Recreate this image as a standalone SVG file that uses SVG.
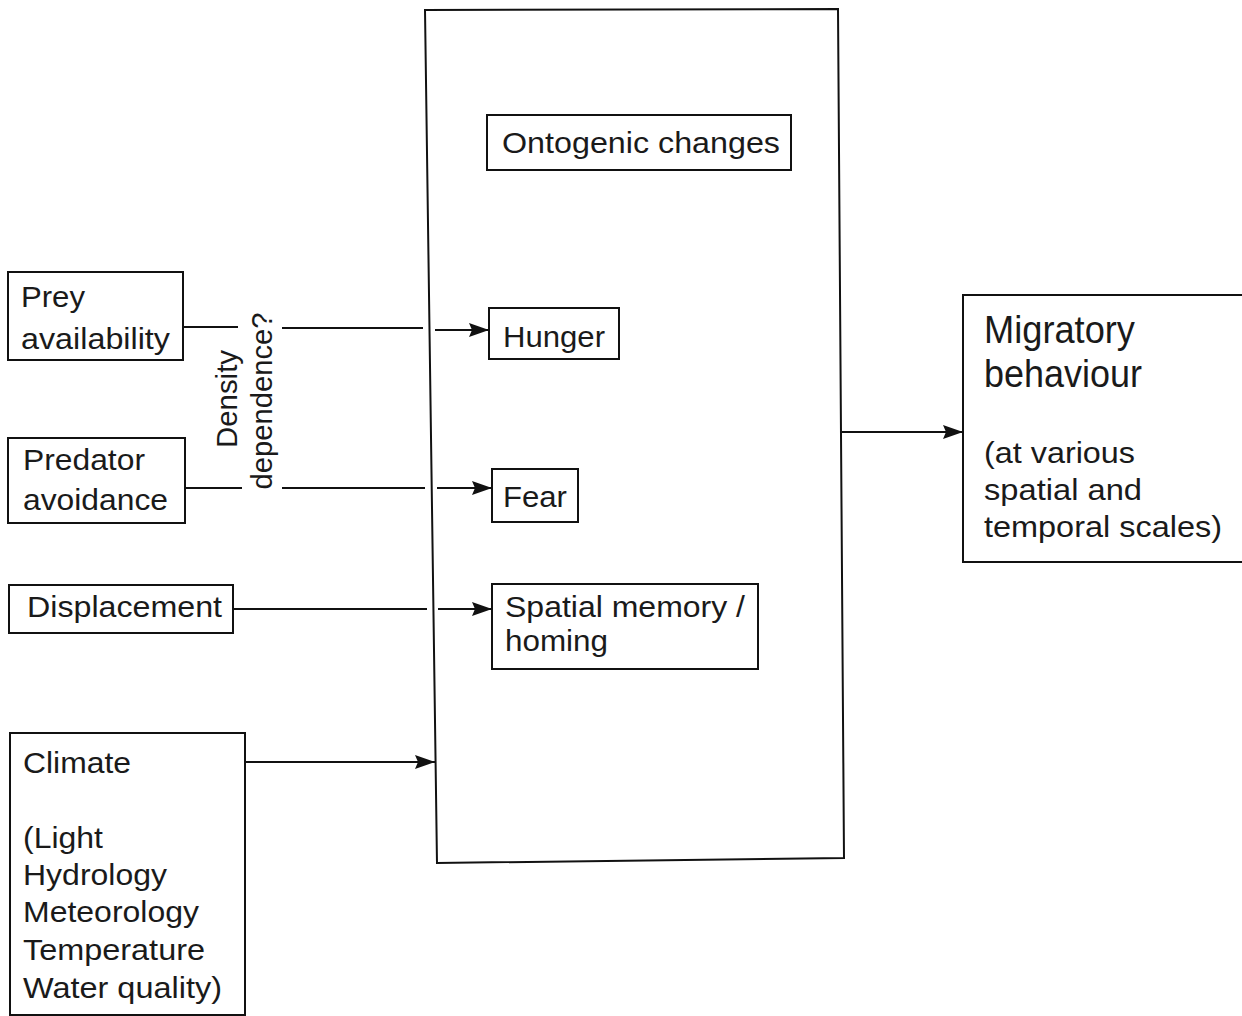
<svg xmlns="http://www.w3.org/2000/svg" width="1242" height="1016" viewBox="0 0 1242 1016">
<style>
.box{fill:none;stroke:#111;stroke-width:2}
.ln{fill:none;stroke:#111;stroke-width:2}
text{font-family:"Liberation Sans",Arial,sans-serif;font-size:29px;fill:#1a1a1a}
.big{font-size:38px}
</style>
<defs>
<marker id="ah" markerUnits="userSpaceOnUse" markerWidth="22" markerHeight="16" refX="20" refY="8" orient="auto">
<path d="M0,1 L20,8 L0,15 L3,8 Z" fill="#111"/>
</marker>
</defs>
<rect width="1242" height="1016" fill="#fff"/>

<g id="central">
<polygon class="box" points="425,10 838,9 844,858 437,863"/>
</g>
<g id="ontogenic">
<rect class="box" x="487" y="115" width="304" height="55"/>
<text x="502" y="153" textLength="278" lengthAdjust="spacingAndGlyphs">Ontogenic changes</text>
</g>
<g id="prey">
<rect class="box" x="8" y="272" width="175" height="88"/>
<text x="21" y="307" textLength="64" lengthAdjust="spacingAndGlyphs">Prey</text>
<text x="21" y="349" textLength="149" lengthAdjust="spacingAndGlyphs">availability</text>
</g>
<g id="predator">
<rect class="box" x="8" y="438" width="177" height="85"/>
<text x="23" y="470" textLength="122" lengthAdjust="spacingAndGlyphs">Predator</text>
<text x="23" y="510" textLength="145" lengthAdjust="spacingAndGlyphs">avoidance</text>
</g>
<g id="displacement">
<rect class="box" x="9" y="585" width="224" height="48"/>
<text x="27" y="617" textLength="195" lengthAdjust="spacingAndGlyphs">Displacement</text>
</g>
<g id="climate">
<rect class="box" x="10" y="733" width="235" height="282"/>
<text x="23" y="773" textLength="108" lengthAdjust="spacingAndGlyphs">Climate</text>
<text x="23" y="848" textLength="80" lengthAdjust="spacingAndGlyphs">(Light</text>
<text x="23" y="885" textLength="144" lengthAdjust="spacingAndGlyphs">Hydrology</text>
<text x="23" y="922" textLength="176" lengthAdjust="spacingAndGlyphs">Meteorology</text>
<text x="23" y="960" textLength="182" lengthAdjust="spacingAndGlyphs">Temperature</text>
<text x="23" y="998" textLength="199" lengthAdjust="spacingAndGlyphs">Water quality)</text>
</g>
<g id="hunger">
<rect class="box" x="489" y="308" width="130" height="51"/>
<text x="503" y="347" textLength="102" lengthAdjust="spacingAndGlyphs">Hunger</text>
</g>
<g id="fear">
<rect class="box" x="492" y="469" width="86" height="53"/>
<text x="503" y="507" textLength="64" lengthAdjust="spacingAndGlyphs">Fear</text>
</g>
<g id="spatial">
<rect class="box" x="492" y="584" width="266" height="85"/>
<text x="505" y="617" textLength="240" lengthAdjust="spacingAndGlyphs">Spatial memory /</text>
<text x="505" y="651" textLength="103" lengthAdjust="spacingAndGlyphs">homing</text>
</g>
<g id="migratory">
<rect class="box" x="963" y="295" width="280" height="267"/>
<text class="big" x="984" y="343" textLength="151" lengthAdjust="spacingAndGlyphs">Migratory</text>
<text class="big" x="984" y="387" textLength="158" lengthAdjust="spacingAndGlyphs">behaviour</text>
<text x="984" y="463" textLength="151" lengthAdjust="spacingAndGlyphs">(at various</text>
<text x="984" y="500" textLength="158" lengthAdjust="spacingAndGlyphs">spatial and</text>
<text x="984" y="537" textLength="238" lengthAdjust="spacingAndGlyphs">temporal scales)</text>
</g>
<g id="density-label">
<text transform="translate(237,399) rotate(-90)" text-anchor="middle" textLength="98" lengthAdjust="spacingAndGlyphs">Density</text>
<text transform="translate(272,401) rotate(-90)" text-anchor="middle" textLength="177" lengthAdjust="spacingAndGlyphs">dependence?</text>
</g>

<g id="connectors">
<path class="ln" d="M183,327 H238 M282,328 H423"/>
<path class="ln" d="M435,330 H489" marker-end="url(#ah)"/>
<path class="ln" d="M185,488 H242 M282,488 H425"/>
<path class="ln" d="M437,488 H492" marker-end="url(#ah)"/>
<path class="ln" d="M233,609 H427"/>
<path class="ln" d="M438,609 H492" marker-end="url(#ah)"/>
<path class="ln" d="M245,762 H435" marker-end="url(#ah)"/>
<path class="ln" d="M842,432 H963" marker-end="url(#ah)"/>
</g>
</svg>
